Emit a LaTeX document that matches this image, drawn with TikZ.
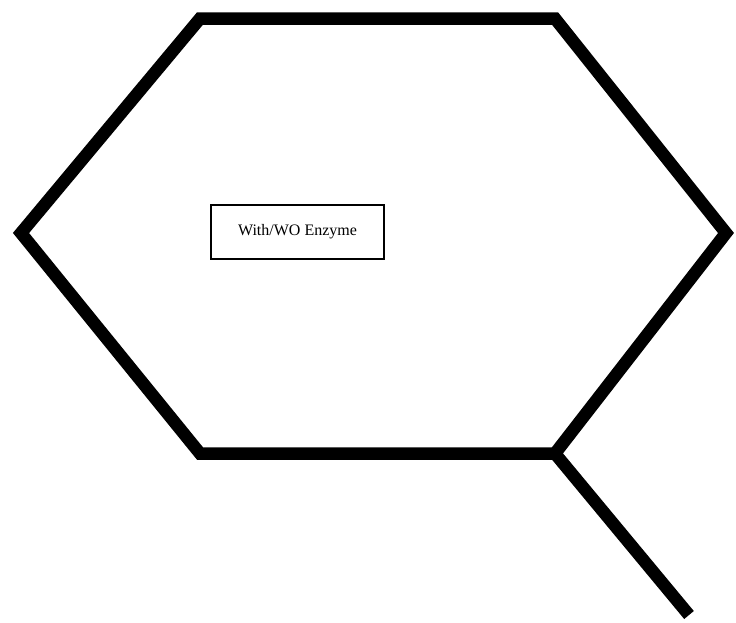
\documentclass[tikz,border=0pt]{standalone}
\usepackage{fontspec}
\setmainfont{Liberation Serif}
\usetikzlibrary{arrows.meta}
\usetikzlibrary{calc}

\begin{document}
\begin{tikzpicture}[x=1pt,y=-1pt,every node/.style={font=\fontsize{16}{19}\selectfont}]
\useasboundingbox (0,0) rectangle (736,622);

% hexagon outline
\coordinate (tl) at (200,18.5);
\coordinate (tr) at (555,18.5);
\coordinate (r) at (726,233);
\coordinate (br) at (555,453.5);
\coordinate (bl) at (200,453.5);
\coordinate (l) at (21,233);
\coordinate (tail) at (689,615);

\draw[line width=12.5pt,miter limit=10] (tl) -- (tr) -- (r) -- (br) -- (bl) -- (l) -- cycle;
\draw[line width=12.5pt] (br) -- (tail);

\node[draw,line width=1.3pt,minimum width=173pt,minimum height=54pt,inner sep=0pt] (enz) at (297.5,232) {With/WO Enzyme};
\end{tikzpicture}
\end{document}
